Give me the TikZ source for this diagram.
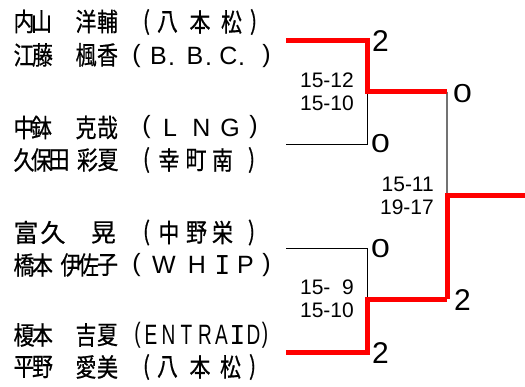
\documentclass[tikz,border=0pt]{standalone}
\usepackage{fontspec}
\setmainfont{Liberation Sans}
\newfontfamily\jp[FakeStretch=0.82,FakeBold=0.6]{Noto Sans CJK JP}
\newfontfamily\jpwide[FakeBold=0.6]{Noto Sans CJK JP}
\newfontfamily\condfont[FakeStretch=0.68]{Liberation Sans}
\newfontfamily\monoI{DejaVu Sans Mono}
\tikzset{
  ch/.style={inner sep=0pt, font=\jp\fontsize{25.5}{25.5}\selectfont},
  chw/.style={inner sep=0pt, font=\jpwide\fontsize{25}{25}\selectfont},
  lat/.style={inner sep=0pt, font=\fontsize{25}{25}\selectfont},
  cond/.style={inner sep=0pt, font=\condfont\fontsize{28}{28}\selectfont},
  serifI/.style={inner sep=0pt, font=\monoI\fontsize{26}{26}\selectfont},
  gamescore/.style={inner sep=0pt, anchor=east, font=\fontsize{21}{21}\selectfont},
  big/.style={inner sep=0pt, font=\fontsize{30}{30}\selectfont},
  bigzero/.style={inner sep=0pt, font=\fontsize{26}{26}\selectfont},
  win/.style={draw=red, line width=5pt, line join=miter},
  lose/.style={draw=black, line width=0.9pt},
  semi/.style={draw=black!55, line width=1.3pt}
}
\begin{document}
\begin{tikzpicture}[x=1pt,y=-1pt]
\useasboundingbox (0,0) rectangle (525,387);
% ---------- row 1 ----------
\foreach \x/\c [count=\i] in {24/内,41.5/山,86/洋,107.5/輔}
  \node[ch] (ra\i) at (\x,21.5) {\c};
\foreach \x/\c [count=\i] in {146.5/(,167.5/八,200/本,231.5/松,253.5/)}
  \node[ch] (ta\i) at (\x,22) {\c};
% ---------- row 2 ----------
\foreach \x/\c [count=\i] in {24/江,42.5/藤,86/楓,107.5/香}
  \node[ch] (rb\i) at (\x,55) {\c};
\foreach \x/\c [count=\i] in {136.5/(,158.5/B,195/B,228.5/C,266.5/)}
  \node[lat] (tb\i) at (\x,56) {\c};
\foreach \x [count=\i] in {171.5,208.5,241.5}
  \node[lat, anchor=base] (pb\i) at (\x,65.5) {.};
% ---------- row 3 ----------
\foreach \x/\c [count=\i] in {24/中,41.5/鉢,86/克,107.5/哉}
  \node[ch] (rc\i) at (\x,127.5) {\c};
\foreach \x/\c [count=\i] in {146.5/(,170/L,201.5/N,230/G,253.5/)}
  \node[lat] (tc\i) at (\x,127.5) {\c};
% ---------- row 4 ----------
\foreach \x/\c [count=\i] in {24/久,41.5/保,59/田,87.5/彩,108/夏}
  \node[ch] (rd\i) at (\x,160) {\c};
\foreach \x/\c [count=\i] in {146.5/(,169/幸,196/町,222.5/南,251.5/)}
  \node[ch] (td\i) at (\x,160) {\c};
% ---------- row 5 ----------
\foreach \x/\c [count=\i] in {26/富,53/久,103.5/晃}
  \node[chw] (re\i) at (\x,232.5) {\c};
\foreach \x/\c [count=\i] in {146.5/(,169/中,196.5/野,222.5/栄,251.5/)}
  \node[ch] (te\i) at (\x,232.5) {\c};
% ---------- row 6 ----------
\foreach \x/\c [count=\i] in {24/橋,42.5/本,71/伊,88.5/佐,107.5/子}
  \node[ch] (rf\i) at (\x,265) {\c};
\foreach \x/\c [count=\i] in {136.5/(,164/W,197/H,245.5/P,266.5/)}
  \node[lat] (tf\i) at (\x,265) {\c};
\node[serifI] (tfI) at (222.5,265) {I};
% ---------- row 7 ----------
\foreach \x/\c [count=\i] in {24/榎,42.5/本,86/吉,107.5/夏}
  \node[ch] (rg\i) at (\x,335) {\c};
\foreach \x/\c [count=\i] in {137.5/(,151/E,168.5/N,186.5/T,205/R,221.5/A,253.5/D,265/)}
  \node[cond] (tg\i) at (\x,335) {\c};
\node[serifI] (tgI) at (237.5,335) {I};
% ---------- row 8 ----------
\foreach \x/\c [count=\i] in {24/平,42.5/野,86/愛,107.5/美}
  \node[ch] (rh\i) at (\x,367) {\c};
\foreach \x/\c [count=\i] in {146.5/(,167.5/八,200/本,230.5/松,252.5/)}
  \node[ch] (th\i) at (\x,367) {\c};
% ---------- bracket ----------
\coordinate (pA) at (286,40.8);
\coordinate (pB) at (286,144);
\coordinate (jA) at (367,91.7);
\coordinate (wA) at (447,91.7);
\coordinate (pC) at (286,248.3);
\coordinate (pD) at (286,352.5);
\coordinate (jB) at (367,299.2);
\coordinate (wB) at (447,299.2);
\coordinate (jF) at (447,195.5);
\coordinate (out) at (525,195.5);
\draw[lose] (pB) -| (jA);
\draw[lose] (pC) -| (jB);
\draw[semi] (wA) -- (jF);
\draw[win] (pA) -| (jA) -- (wA);
\draw[win] (pD) -| (jB) -- (wB);
\draw[win] (wB) -- (jF) -- (out);
% ---------- set scores ----------
\node[big] (sA1) at (380.5,41) {2};
\node[bigzero] (sA2) at (380.5,143.5) {\scalebox{1.3}[1]{0}};
\node[bigzero] (sF1) at (462.5,94) {\scalebox{1.3}[1]{0}};
\node[bigzero] (sB1) at (380.5,249) {\scalebox{1.3}[1]{0}};
\node[big] (sB2) at (380.5,353) {2};
\node[big] (sF2) at (462.5,300) {2};
% ---------- game scores ----------
\node[gamescore] (gA1) at (354,80) {15-12};
\node[gamescore] (gA2) at (354,103.5) {15-10};
\node[gamescore] (gF1) at (434,184.5) {15-11};
\node[gamescore] (gF2) at (434,207.5) {19-17};
\node[gamescore] (gB1) at (354,287.5) {15-\hphantom{0}9};
\node[gamescore] (gB2) at (354,310.5) {15-10};
\end{tikzpicture}
\end{document}
